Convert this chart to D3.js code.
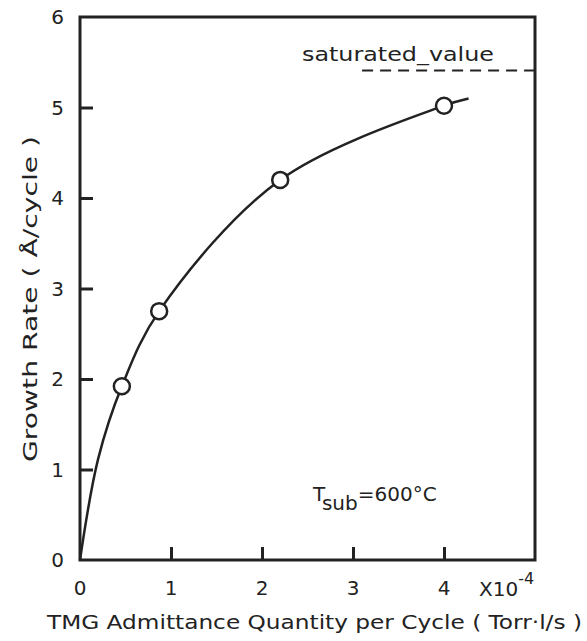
<!DOCTYPE html>
<html>
    <head>
        <style>
            body { margin: 0; background: #fff; }
            svg { background: #fff; }
            text { font-family: "DejaVu Sans", sans-serif; fill: #222; }
        </style>
    </head>
    <body>
        <div id="chart"></div>

        <script src="https://cdnjs.cloudflare.com/ajax/libs/d3/7.8.5/d3.min.js"></script>

    <script>
        // measured points (open circles)
        var admittance = [0.46, 0.87, 2.2, 4.0];
        var growthRate = [1.92, 2.75, 4.2, 5.02];

        // hand drawn fit curve
        var curveX = [0, 0.2, 0.46, 0.87, 2.2, 4.0, 4.27];
        var curveY = [0, 1.12, 1.92, 2.75, 4.2, 5.02, 5.1];

        var saturated = 5.41;
        var xTicks = [0, 1, 2, 3, 4];
        var yTicks = [0, 1, 2, 3, 4, 5, 6];

        (function() {
            var width = 587,
                height = 641;

            var svg = d3.select("#chart")
                .append("svg")
                .attr("width", width)
                .attr("height", height);

            var x = d3.scaleLinear().domain([0, 5]).range([80, 535]);
            var y = d3.scaleLinear().domain([0, 6]).range([560, 17]);

            var ink = "#222";

            // y axis ticks pointing inward
            var yAxis = svg.append("g")
                .attr("transform", "translate(" + x(0) + ",0)")
                .call(d3.axisLeft(y).tickValues(yTicks.filter(function(d) { return d > 0 && d < 6; }))
                    .tickSize(-13));
            yAxis.select(".domain").remove();
            yAxis.selectAll("text").remove();
            yAxis.selectAll("line").attr("stroke", ink).attr("stroke-width", 3);

            // y labels incl. 0 and 6 (no tick marks there)
            svg.selectAll(".ylab")
                .data(yTicks)
                .enter().append("text")
                .attr("class", "ylab")
                .attr("x", x(0) - 16)
                .attr("y", function(d) { return y(d); })
                .attr("dy", "0.36em")
                .attr("text-anchor", "end")
                .attr("font-size", 20)
                .text(function(d) { return d; });

            var xAxis = svg.append("g")
                .attr("transform", "translate(0," + y(0) + ")")
                .call(d3.axisBottom(x).tickValues(xTicks.filter(function(d) { return d > 0; }))
                    .tickSize(-13));
            xAxis.select(".domain").remove();
            xAxis.selectAll("text").remove();
            xAxis.selectAll("line").attr("stroke", ink).attr("stroke-width", 3);

            svg.selectAll(".xlab")
                .data(xTicks)
                .enter().append("text")
                .attr("class", "xlab")
                .attr("x", function(d) { return x(d); })
                .attr("y", y(0) + 28)
                .attr("dy", "0.36em")
                .attr("text-anchor", "middle")
                .attr("font-size", 20)
                .text(function(d) { return d; });

            // frame
            svg.append("rect")
                .attr("x", x(0))
                .attr("y", y(6))
                .attr("width", x(5) - x(0))
                .attr("height", y(0) - y(6))
                .attr("fill", "none")
                .attr("stroke", ink)
                .attr("stroke-width", 3);

            // saturated value line
            svg.append("line")
                .attr("x1", x(3.1))
                .attr("x2", x(5))
                .attr("y1", y(saturated))
                .attr("y2", y(saturated))
                .attr("stroke", ink)
                .attr("stroke-width", 2)
                .attr("stroke-dasharray", "11,7");

            svg.append("text")
                .attr("x", 302)
                .attr("y", 61)
                .attr("font-size", 20)
                .attr("textLength", 192)
                .attr("lengthAdjust", "spacingAndGlyphs")
                .text("saturated_value");

            // fit curve
            var pts = curveX.map(function(d, i) { return [d, curveY[i]]; });
            var line = d3.line()
                .x(function(d) { return x(d[0]); })
                .y(function(d) { return y(d[1]); })
                .curve(d3.curveCatmullRom.alpha(0.5));

            svg.append("path")
                .datum(pts)
                .attr("d", line)
                .attr("fill", "none")
                .attr("stroke", ink)
                .attr("stroke-width", 2.5);

            var data = admittance.map(function(d, i) { return { a: d, g: growthRate[i] }; });
            svg.selectAll(".pt")
                .data(data)
                .enter().append("circle")
                .attr("class", "pt")
                .attr("cx", function(d) { return x(d.a); })
                .attr("cy", function(d) { return y(d.g); })
                .attr("r", 8)
                .attr("fill", "#fff")
                .attr("stroke", ink)
                .attr("stroke-width", 2.5);

            // Tsub annotation
            var t = svg.append("text")
                .attr("x", 313)
                .attr("y", 501)
                .attr("font-size", 20);
            t.append("tspan").text("T");
            t.append("tspan").attr("dy", 9).text("sub");
            t.append("tspan").attr("dy", -9).text("=600°C");

            // multiplier
            var m = svg.append("text")
                .attr("x", 479)
                .attr("y", 596)
                .attr("font-size", 20);
            m.append("tspan").text("X10");
            m.append("tspan").attr("dy", -12).attr("font-size", 16).text("-4");

            // axis titles
            svg.append("text")
                .attr("x", 47)
                .attr("y", 629)
                .attr("font-size", 20)
                .attr("textLength", 535)
                .attr("lengthAdjust", "spacingAndGlyphs")
                .text("TMG Admittance Quantity per Cycle ( Torr·l/s )");

            svg.append("text")
                .attr("transform", "translate(37,462) rotate(-90)")
                .attr("font-size", 20)
                .attr("textLength", 326)
                .attr("lengthAdjust", "spacingAndGlyphs")
                .text("Growth Rate   ( Å/cycle )");
        })();
    </script>
    </body>
</html>
